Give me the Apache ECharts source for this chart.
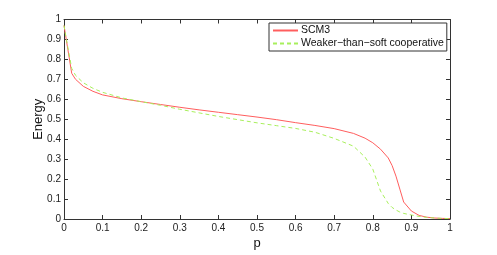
<!DOCTYPE html>
<html>
<head>
<meta charset="utf-8">
<script src="https://cdn.jsdelivr.net/npm/echarts@6/dist/echarts.min.js"></script>
<style>
html,body{margin:0;padding:0;background:#fff;}
#chart{width:497px;height:255px;}
</style>
</head>
<body>
<div id="chart"></div>
<script>
var pValues = [0, 0.01, 0.02, 0.03, 0.05, 0.075, 0.1, 0.15, 0.2, 0.25, 0.3, 0.35, 0.4, 0.45, 0.5, 0.55, 0.6, 0.65, 0.7, 0.75, 0.78, 0.8, 0.82, 0.84, 0.85, 0.86, 0.87, 0.88, 0.9, 0.92, 0.94, 0.96, 0.98, 1];
var scm3 = [0.97, 0.85, 0.73, 0.70, 0.665, 0.64, 0.622, 0.603, 0.588, 0.574, 0.560, 0.547, 0.535, 0.523, 0.511, 0.498, 0.483, 0.469, 0.453, 0.429, 0.405, 0.382, 0.350, 0.306, 0.268, 0.215, 0.150, 0.085, 0.04, 0.018, 0.009, 0.005, 0.003, 0.002];
var weaker = [0.97, 0.86, 0.755, 0.72, 0.683, 0.655, 0.635, 0.607, 0.588, 0.570, 0.550, 0.532, 0.514, 0.498, 0.482, 0.468, 0.454, 0.435, 0.404, 0.365, 0.31, 0.25, 0.14, 0.078, 0.058, 0.045, 0.035, 0.028, 0.02, 0.013, 0.008, 0.005, 0.003, 0.002];
var seriesNames = ['SCM3', 'Weaker\u2212than\u2212soft cooperative'];
var xTicks = [0, 0.1, 0.2, 0.3, 0.4, 0.5, 0.6, 0.7, 0.8, 0.9, 1];
var yTicks = [0, 0.1, 0.2, 0.3, 0.4, 0.5, 0.6, 0.7, 0.8, 0.9, 1];

function pairs(xs, ys) { return xs.map(function (x, i) { return [x, ys[i]]; }); }
function fmt(v) { return String(Math.round(v * 10) / 10); }

var font = 'Liberation Sans, Arial, Helvetica, sans-serif';
var axisCol = '#333333';
var chart = echarts.init(document.getElementById('chart'), null, {renderer: 'canvas'});
var baseX = {
  type: 'value', min: 0, max: 1, interval: 0.1,
  axisLine: {show: true, onZero: false, lineStyle: {color: axisCol, width: 1}},
  axisTick: {show: true, inside: true, length: 4, lineStyle: {color: axisCol}},
  splitLine: {show: false}
};
var baseY = {
  type: 'value', min: 0, max: 1, interval: 0.1,
  axisLine: {show: true, onZero: false, lineStyle: {color: axisCol, width: 1}},
  axisTick: {show: true, inside: true, length: 4, lineStyle: {color: axisCol}},
  splitLine: {show: false}
};
chart.setOption({
  animation: false,
  backgroundColor: '#ffffff',
  textStyle: {fontFamily: font},
  grid: {left: 64, right: 47, top: 19.5, bottom: 29, containLabel: false},
  legend: {
    left: 269, top: 23, orient: 'vertical',
    padding: [2, 3, 2, 3], itemGap: 2, itemWidth: 25, itemHeight: 12,
    borderColor: '#333333', borderWidth: 1, backgroundColor: '#ffffff',
    itemStyle: {opacity: 0},
    textStyle: {fontSize: 10.5, color: '#111111', fontFamily: font, padding: [0, 0, 0, -2]},
    data: seriesNames
  },
  xAxis: [
    Object.assign({}, baseX, {
      position: 'bottom', name: 'p', nameLocation: 'middle', nameGap: 18, nameMoveOverlap: false,
      nameTextStyle: {fontSize: 13, color: '#111111', fontFamily: font},
      axisLabel: {fontSize: 10, color: '#222222', margin: 4, fontFamily: font, formatter: function (v) { return xTicks.indexOf(Math.round(v*10)/10) >= 0 ? fmt(v) : ''; }}
    }),
    Object.assign({}, baseX, {position: 'top', axisLabel: {show: false}})
  ],
  yAxis: [
    Object.assign({}, baseY, {
      position: 'left', name: 'Energy', nameLocation: 'middle', nameGap: 19, nameMoveOverlap: false,
      nameTextStyle: {fontSize: 13, color: '#111111', fontFamily: font},
      axisLabel: {fontSize: 10, color: '#222222', margin: 3, fontFamily: font, formatter: function (v) { return yTicks.indexOf(Math.round(v*10)/10) >= 0 ? fmt(v) : ''; }}
    }),
    Object.assign({}, baseY, {position: 'right', axisLabel: {show: false}})
  ],
  series: [
    {
      name: seriesNames[0], type: 'line', data: pairs(pValues, scm3),
      showSymbol: false, symbol: 'none', smooth: false,
      lineStyle: {color: '#ff5e5e', width: 1}, itemStyle: {color: '#ff5e5e'}
    },
    {
      name: seriesNames[1], type: 'line', data: pairs(pValues, weaker),
      showSymbol: false, symbol: 'none', smooth: false,
      lineStyle: {color: '#a8ef5c', width: 1, type: [4, 3]}, itemStyle: {color: '#a8ef5c'}
    }
  ]
});
</script>
</body>
</html>
